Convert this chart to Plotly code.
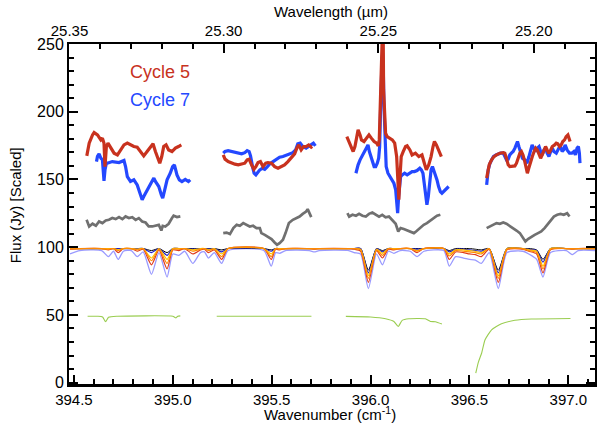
import plotly.graph_objects as go

# ---------------- data ----------------
# Cycle 5 (red) observed spectrum, four spectral segments
red_wn1 = [394.565, 394.577, 394.594, 394.602, 394.619, 394.636, 394.644, 394.652, 394.657, 394.664, 394.672, 394.686, 394.703, 394.720, 394.736, 394.753, 394.770, 394.786, 394.803, 394.820, 394.837, 394.853, 394.870, 394.887, 394.900, 394.912, 394.924, 394.934, 394.944, 394.954, 394.966, 394.979, 394.996, 395.013, 395.029, 395.043]
red_f1 = [167.4, 176.8, 182.9, 184.6, 182.9, 179.2, 180.5, 176.8, 159.5, 174.3, 176.8, 173.1, 169.4, 168.1, 171.8, 175.5, 176.8, 175.5, 174.3, 173.8, 170.6, 167.4, 170.6, 174.3, 176.3, 170.6, 165.7, 162.0, 166.9, 174.3, 175.5, 171.8, 170.6, 173.1, 174.3, 175.5]
red_wn2 = [395.255, 395.264, 395.280, 395.297, 395.314, 395.331, 395.348, 395.364, 395.376, 395.386, 395.398, 395.410, 395.420, 395.431, 395.443, 395.456, 395.470, 395.481, 395.499, 395.515, 395.532, 395.549, 395.565, 395.582, 395.599, 395.616, 395.627, 395.637, 395.649, 395.661, 395.674, 395.687, 395.700, 395.705]
red_f2 = [168.1, 165.0, 163.2, 162.0, 161.3, 160.8, 161.3, 162.0, 164.5, 165.0, 160.8, 157.5, 159.5, 162.5, 163.2, 159.5, 162.0, 162.5, 162.0, 159.5, 158.3, 159.5, 160.8, 163.2, 166.4, 168.9, 173.1, 175.5, 171.8, 174.3, 174.3, 175.5, 173.8, 174.3]
red_wn3 = [395.880, 395.887, 395.900, 395.912, 395.921, 395.931, 395.937, 395.947, 395.954, 395.967, 395.981, 395.992, 396.004, 396.018, 396.031, 396.039, 396.044, 396.049, 396.053, 396.058, 396.063, 396.066, 396.071, 396.076, 396.084, 396.098, 396.110, 396.122, 396.132, 396.138, 396.143, 396.148, 396.155, 396.165, 396.177, 396.185, 396.199, 396.210, 396.227, 396.244, 396.260, 396.272, 396.282, 396.294, 396.306, 396.316, 396.323, 396.333, 396.344, 396.353, 396.358]
red_f3 = [181.6, 179.2, 174.3, 170.6, 174.3, 181.6, 186.6, 182.9, 179.2, 178.0, 180.5, 182.9, 180.5, 178.0, 176.8, 174.8, 179.2, 203.8, 238.2, 275.0, 275.0, 216.1, 191.5, 184.1, 181.6, 180.5, 179.2, 176.8, 166.9, 149.7, 135.0, 149.7, 166.9, 170.6, 174.3, 174.8, 171.8, 168.1, 169.4, 166.9, 168.1, 162.0, 157.1, 160.8, 166.9, 174.3, 178.0, 175.5, 171.8, 168.1, 166.9]
red_wn4 = [396.587, 396.592, 396.600, 396.612, 396.624, 396.637, 396.654, 396.671, 396.679, 396.687, 396.696, 396.704, 396.718, 396.730, 396.738, 396.746, 396.755, 396.763, 396.771, 396.780, 396.788, 396.793, 396.800, 396.808, 396.818, 396.827, 396.835, 396.843, 396.852, 396.860, 396.868, 396.877, 396.885, 396.893, 396.902, 396.911, 396.919, 396.931, 396.939, 396.947, 396.956, 396.964, 396.972, 396.981, 396.989, 396.998, 397.003, 397.009]
red_f4 = [151.0, 155.8, 160.8, 164.5, 166.9, 168.1, 169.4, 169.8, 169.4, 165.7, 160.8, 159.5, 159.5, 160.0, 162.0, 165.7, 169.4, 170.6, 168.1, 163.2, 157.1, 154.6, 158.3, 163.2, 166.9, 170.6, 173.1, 171.8, 168.1, 165.7, 168.1, 171.8, 174.3, 171.8, 169.4, 171.8, 174.3, 175.5, 176.8, 176.3, 174.3, 175.5, 178.0, 179.2, 181.6, 182.9, 180.5, 178.0]

# Cycle 7 (blue) observed spectrum
blue_wn1 = [394.614, 394.619, 394.627, 394.636, 394.644, 394.652, 394.657, 394.664, 394.669, 394.694, 394.728, 394.753, 394.761, 394.770, 394.786, 394.803, 394.820, 394.837, 394.845, 394.853, 394.870, 394.887, 394.904, 394.912, 394.929, 394.942, 394.949, 394.959, 394.971, 394.987, 394.999, 395.008, 395.013, 395.021, 395.033, 395.046, 395.063, 395.079, 395.088]
blue_f1 = [163.2, 167.0, 168.9, 165.7, 164.5, 149.0, 157.0, 162.0, 162.0, 163.2, 162.5, 164.0, 159.5, 152.1, 148.5, 149.7, 146.0, 138.6, 135.0, 137.4, 142.3, 146.0, 151.0, 148.5, 144.8, 138.6, 136.2, 142.3, 149.7, 154.6, 159.5, 160.8, 157.1, 153.4, 149.7, 148.5, 150.1, 148.5, 149.7]
blue_wn2 = [395.255, 395.264, 395.280, 395.297, 395.314, 395.331, 395.348, 395.364, 395.376, 395.386, 395.393, 395.403, 395.411, 395.420, 395.431, 395.440, 395.453, 395.465, 395.476, 395.490, 395.507, 395.524, 395.540, 395.557, 395.574, 395.590, 395.607, 395.621, 395.632, 395.644, 395.657, 395.674, 395.687, 395.700, 395.711, 395.721]
blue_f2 = [169.4, 170.6, 171.3, 170.6, 169.8, 169.4, 168.9, 169.8, 171.3, 170.6, 167.4, 159.5, 154.6, 153.4, 155.8, 157.1, 158.3, 157.5, 159.0, 161.5, 163.2, 165.0, 166.4, 166.9, 168.1, 168.9, 169.8, 171.8, 176.3, 176.8, 174.3, 173.1, 174.3, 175.5, 176.8, 174.8]
blue_wn3 = [395.926, 395.931, 395.937, 395.947, 395.959, 395.971, 395.981, 395.987, 395.994, 396.001, 396.009, 396.018, 396.026, 396.034, 396.041, 396.046, 396.051, 396.054, 396.058, 396.061, 396.064, 396.068, 396.073, 396.079, 396.088, 396.098, 396.110, 396.118, 396.127, 396.132, 396.137, 396.142, 396.147, 396.152, 396.160, 396.172, 396.185, 396.199, 396.210, 396.222, 396.235, 396.249, 396.257, 396.265, 396.272, 396.279, 396.285, 396.292, 396.299, 396.306, 396.313, 396.319, 396.328, 396.336, 396.344, 396.353, 396.361, 396.369, 396.378, 396.386, 396.395]
blue_f3 = [154.6, 158.3, 160.8, 164.5, 168.1, 171.8, 174.8, 175.5, 170.6, 166.9, 163.2, 159.5, 159.5, 162.0, 165.7, 174.3, 203.8, 228.4, 238.2, 243.1, 233.3, 203.8, 179.2, 159.5, 154.6, 152.1, 149.7, 147.2, 142.3, 135.0, 125.1, 137.4, 147.2, 152.1, 153.4, 154.6, 153.4, 155.1, 155.8, 155.8, 156.6, 158.3, 157.1, 154.6, 144.8, 135.0, 131.3, 137.4, 149.7, 157.1, 159.5, 157.1, 152.1, 149.7, 144.8, 141.1, 139.9, 141.1, 142.3, 143.6, 144.8]
blue_wn4 = [396.587, 396.590, 396.595, 396.604, 396.612, 396.621, 396.634, 396.646, 396.657, 396.671, 396.679, 396.687, 396.696, 396.704, 396.712, 396.721, 396.730, 396.738, 396.743, 396.750, 396.758, 396.768, 396.780, 396.791, 396.801, 396.808, 396.817, 396.825, 396.835, 396.843, 396.852, 396.860, 396.868, 396.877, 396.885, 396.893, 396.902, 396.911, 396.919, 396.927, 396.939, 396.952, 396.961, 396.969, 396.976, 396.984, 396.994, 397.006, 397.018, 397.028, 397.036, 397.044, 397.051, 397.056, 397.059]
blue_f4 = [146.0, 152.1, 157.1, 162.0, 165.0, 166.9, 168.1, 168.9, 169.4, 169.4, 166.9, 164.5, 165.0, 168.1, 169.4, 170.6, 173.1, 175.5, 178.0, 174.3, 169.4, 165.7, 164.5, 162.0, 166.9, 171.8, 175.5, 173.1, 170.6, 173.1, 174.3, 170.6, 168.1, 171.8, 173.1, 169.4, 166.9, 170.6, 173.1, 170.6, 169.4, 173.1, 174.3, 170.6, 171.8, 175.5, 171.8, 169.4, 169.4, 170.6, 168.1, 173.1, 174.3, 169.4, 162.0]

# Gray spectrum
gray_wn1 = [394.564, 394.577, 394.594, 394.611, 394.627, 394.644, 394.661, 394.677, 394.694, 394.711, 394.728, 394.745, 394.761, 394.778, 394.795, 394.812, 394.828, 394.845, 394.862, 394.878, 394.896, 394.912, 394.929, 394.942, 394.949, 394.962, 394.979, 394.996, 395.004, 395.021, 395.038]
gray_f1 = [120.2, 115.3, 117.3, 115.8, 119.0, 117.8, 119.7, 120.2, 121.5, 120.7, 122.2, 120.7, 122.7, 121.5, 122.2, 120.2, 121.5, 119.0, 118.2, 115.3, 115.3, 115.8, 116.5, 112.3, 115.8, 115.3, 117.3, 121.5, 123.2, 122.2, 122.7]
gray_wn2 = [395.255, 395.272, 395.289, 395.306, 395.323, 395.339, 395.356, 395.373, 395.389, 395.406, 395.423, 395.440, 395.448, 395.465, 395.481, 395.499, 395.515, 395.527, 395.540, 395.557, 395.570, 395.587, 395.607, 395.624, 395.641, 395.657, 395.674, 395.682, 395.691, 395.700]
gray_f2 = [110.4, 110.8, 109.7, 114.1, 116.5, 115.8, 117.8, 116.5, 115.3, 115.8, 114.1, 114.1, 110.4, 109.1, 107.9, 106.0, 103.5, 101.8, 103.0, 105.5, 110.4, 117.8, 120.2, 121.5, 122.6, 124.6, 126.3, 128.1, 125.1, 122.2]
gray_wn3 = [395.883, 395.892, 395.909, 395.926, 395.942, 395.959, 395.976, 395.992, 396.009, 396.026, 396.043, 396.059, 396.076, 396.093, 396.110, 396.127, 396.140, 396.152, 396.168, 396.185, 396.202, 396.219, 396.230, 396.244, 396.257, 396.269, 396.285, 396.303, 396.319, 396.336, 396.353]
gray_f3 = [125.1, 122.6, 123.9, 123.2, 124.6, 123.2, 122.6, 124.6, 125.6, 123.9, 122.6, 123.9, 122.1, 122.6, 120.2, 117.3, 111.6, 114.1, 113.4, 112.3, 111.6, 110.4, 111.6, 113.4, 115.3, 116.5, 117.8, 119.7, 121.5, 123.2, 123.9]
gray_wn4 = [396.587, 396.604, 396.621, 396.637, 396.654, 396.671, 396.687, 396.704, 396.721, 396.738, 396.755, 396.771, 396.783, 396.796, 396.813, 396.830, 396.847, 396.863, 396.880, 396.893, 396.911, 396.927, 396.944, 396.961, 396.977, 396.994, 397.006]
gray_f4 = [114.1, 115.3, 116.5, 117.8, 117.3, 118.2, 117.3, 115.8, 114.1, 112.3, 110.4, 106.7, 104.2, 106.0, 107.9, 109.1, 110.4, 111.6, 114.1, 116.5, 120.2, 122.6, 123.9, 124.6, 123.9, 125.1, 122.6]

# Green curve
green_wn1 = [394.569, 394.620, 394.645, 394.660, 394.675, 394.720, 395.000, 395.016, 395.025, 395.038]
green_f1 = [49.0, 49.0, 48.5, 45.0, 48.3, 49.0, 49.0, 47.8, 49.0, 49.3]
green_wn2 = [395.222, 395.701]
green_f2 = [49.0, 49.0]
green_wn3 = [395.875, 396.000, 396.076, 396.118, 396.140, 396.160, 396.194, 396.277, 396.303, 396.328, 396.361]
green_f3 = [48.9, 48.5, 47.2, 45.2, 41.5, 46.0, 47.2, 47.2, 45.2, 45.0, 43.3]
green_wn4 = [396.532, 396.545, 396.562, 396.579, 396.612, 396.662, 396.730, 396.813, 397.011]
green_f4 = [7.0, 15.0, 21.9, 31.7, 39.0, 43.5, 46.0, 47.0, 47.4]

# Model spectra (common wavenumber grid)
model_wn = [394.48, 394.53, 394.64, 394.674, 394.70, 394.724, 394.75, 394.79, 394.82, 394.85, 394.892, 394.93, 394.971, 395.00, 395.03, 395.06, 395.101, 395.14, 395.16, 395.18, 395.21, 395.247, 395.28, 395.46, 395.498, 395.52, 395.54, 395.57, 395.69, 395.716, 395.74, 395.89, 395.917, 395.95, 395.989, 396.03, 396.06, 396.09, 396.118, 396.15, 396.20, 396.235, 396.27, 396.37, 396.398, 396.43, 396.47, 396.50, 396.53, 396.56, 396.60, 396.646, 396.69, 396.77, 396.80, 396.84, 396.872, 396.91, 396.99, 397.02, 397.05, 397.14]
model_lightblue = [95, 97.5, 97.5, 93, 97, 91, 97, 97.5, 93, 96.5, 80, 96, 78, 95, 94, 97, 88, 96, 96.5, 92, 96, 88, 97.5, 97.5, 86, 96, 95.5, 97.5, 97.5, 96.5, 97.5, 97.5, 96, 95, 69.5, 95, 87, 97, 95.5, 97.5, 97, 93, 97, 97.5, 86, 93, 92, 91, 90.5, 88, 96, 69.5, 96, 97, 95, 91, 78, 96, 97.5, 94.5, 97.5, 97.5]
model_red = [98.5, 99, 99, 98, 99, 96, 99, 99, 97, 98.5, 87, 98, 84, 98, 97.5, 99, 95, 98, 98.5, 96, 98, 91, 99, 99, 91, 98.5, 98, 99, 99, 98.5, 99, 99, 98.5, 97, 74, 97.5, 92, 98.5, 98, 99, 99, 96, 99, 99, 91, 96.5, 96, 95, 94.5, 93, 98.5, 74, 98, 98.5, 97, 95, 81, 98, 99, 98.5, 99, 99]
model_orange = [99, 99, 99, 98.5, 99, 97.5, 99, 99, 98, 99, 90, 98.5, 88, 98.5, 98.5, 99, 97, 98.5, 99, 97.5, 98.5, 93, 99, 99, 93, 99, 98.5, 99, 99, 99, 99, 99, 99, 98, 77, 98, 94, 99, 98.5, 99, 99, 97, 99, 99, 93.5, 97.5, 97, 96.5, 96, 95, 99, 77, 98.5, 99, 97.5, 96, 84, 98.5, 99, 99, 99, 99]
model_yellow = [99, 99, 99, 99, 99, 98, 99, 99, 98.5, 99, 92, 99, 91, 99, 99, 99, 98, 99, 99, 98, 99, 95, 99, 99, 95, 99, 99, 99, 99, 99, 99, 99, 99, 98.5, 79, 98.5, 95.5, 99, 99, 99, 99, 97.5, 99, 99, 95, 98, 98, 97.5, 97, 96, 99, 79, 99, 99, 98, 97, 86, 99, 99, 99, 99, 99]
model_darkblue = [99, 99, 99, 99, 99, 99, 99, 99, 99, 99, 96, 99, 94, 99, 99, 99, 98.5, 99, 99, 98.5, 99, 96.5, 99, 99, 97, 99, 99, 99, 99, 99, 99, 99, 99, 99, 81, 99, 96.5, 99, 99, 99, 99, 98.5, 99, 99, 96.5, 98.5, 98.5, 98, 97.5, 97, 99, 81, 99, 99, 98.5, 97.5, 89, 99, 99, 99, 99, 99]
model_black = [99, 99, 99, 99, 99, 99, 99, 99, 99, 99, 97.5, 99, 96, 99, 99, 99, 99, 99, 99, 99, 99, 98, 99, 99, 98, 99, 99, 99, 99, 99, 99, 99, 99, 99, 83, 99, 97.5, 99, 99, 99, 99, 99, 99, 99, 97.5, 99, 99, 99, 98.5, 98, 99, 83, 99, 99, 99, 98, 91, 99, 99, 99, 99, 99]

# Axes
x_range = [394.475, 397.135]
y_range = [-1, 250]
wn_ticks = [394.5, 395.0, 395.5, 396.0, 396.5, 397.0]
wl_ticks = [25.35, 25.30, 25.25, 25.20]
wl_minor = [25.34, 25.33, 25.32, 25.31, 25.29, 25.28, 25.27, 25.26, 25.24, 25.23, 25.22, 25.21, 25.19, 25.18]

# ---------------- figure ----------------
FONT = "Liberation Sans, Arial, Helvetica, sans-serif"
W, H, L, R, T, B = 599, 423, 69, 2, 44, 39


def join(*segs):
    xs, ys = [], []
    for sx, sy in segs:
        if xs:
            xs.append(None)
            ys.append(None)
        xs.extend(sx)
        ys.extend(sy)
    return xs, ys


def px_to_paper(xp, yp):
    return (xp - L) / (W - L - R), (H - B - yp) / (H - T - B)


fig = go.Figure()

models = [
    (model_lightblue, "#9a9aff", 1.3),
    (model_black, "#000000", 1.0),
    (model_darkblue, "#2020c8", 1.2),
    (model_red, "#e03a1a", 1.2),
    (model_yellow, "#ffc400", 1.2),
    (model_orange, "#ff8a00", 1.2),
]
for ys, col, w in models:
    fig.add_trace(go.Scatter(x=model_wn, y=ys, mode="lines",
                             line=dict(color=col, width=w, shape="spline", smoothing=0.6),
                             showlegend=False, hoverinfo="skip"))

gx, gy = join((green_wn1, green_f1), (green_wn2, green_f2), (green_wn3, green_f3), (green_wn4, green_f4))
fig.add_trace(go.Scatter(x=gx, y=gy, mode="lines",
                         line=dict(color="#9acd50", width=1.1, shape="spline", smoothing=0.5),
                         showlegend=False, connectgaps=False))

kx, ky = join((gray_wn1, gray_f1), (gray_wn2, gray_f2), (gray_wn3, gray_f3), (gray_wn4, gray_f4))
fig.add_trace(go.Scatter(x=kx, y=ky, mode="lines", line=dict(color="#707070", width=2.7),
                         showlegend=False, connectgaps=False))

bx, by = join((blue_wn1, blue_f1), (blue_wn2, blue_f2), (blue_wn3, blue_f3), (blue_wn4, blue_f4))
fig.add_trace(go.Scatter(x=bx, y=by, mode="lines", line=dict(color="#2448ff", width=3.2),
                         showlegend=False, connectgaps=False))

rx, ry = join((red_wn1, red_f1), (red_wn2, red_f2), (red_wn3, red_f3), (red_wn4, red_f4))
fig.add_trace(go.Scatter(x=rx, y=ry, mode="lines", line=dict(color="#c8321e", width=3.2),
                         showlegend=False, connectgaps=False))

# invisible trace that carries the top (wavelength) axis
fig.add_trace(go.Scatter(x=x_range, y=[None, None], xaxis="x2", mode="lines",
                         showlegend=False, hoverinfo="skip"))

tick_font = dict(family=FONT, size=16, color="black")
small_font = dict(family=FONT, size=15, color="black")
fig.update_layout(
    width=W, height=H,
    margin=dict(l=L, r=R, t=T, b=B),
    paper_bgcolor="white", plot_bgcolor="white",
    font=dict(family=FONT, size=16, color="black"),
    xaxis=dict(range=x_range, tickvals=wn_ticks, ticktext=[f"{v:.1f}" for v in wn_ticks],
               tickfont=small_font,
               ticks="inside", ticklen=9, tickwidth=1.5, tickcolor="black",
               minor=dict(dtick=0.1, tick0=394.5, ticks="inside", ticklen=5, tickwidth=1.5, tickcolor="black"),
               showline=True, linewidth=2.5, linecolor="black", mirror=False,
               showgrid=False, zeroline=False),
    xaxis2=dict(range=x_range, overlaying="x", side="top",
                tickmode="array", tickvals=[1e4 / w for w in wl_ticks],
                ticktext=[f"{w:.2f}" for w in wl_ticks], tickfont=small_font,
                ticks="inside", ticklen=9, tickwidth=1.5, tickcolor="black",
                minor=dict(tickmode="array", tickvals=[1e4 / w for w in wl_minor],
                           ticks="inside", ticklen=5, tickwidth=1.5, tickcolor="black"),
                showline=True, linewidth=1.5, linecolor="black",
                showgrid=False, zeroline=False),
    yaxis=dict(range=y_range, tickvals=[0, 50, 100, 150, 200, 250], tickfont=tick_font,
               ticks="inside", ticklen=9, tickwidth=1.5, tickcolor="black",
               minor=dict(dtick=10, tick0=0, ticks="inside", ticklen=5, tickwidth=1.5, tickcolor="black"),
               showline=True, linewidth=2, linecolor="black", mirror="ticks",
               showgrid=False, zeroline=False),
)

fig.add_annotation(text="Cycle 5", x=394.937, y=229.4, xref="x", yref="y", showarrow=False,
                   font=dict(family=FONT, size=18, color="#c8321e"))
fig.add_annotation(text="Cycle 7", x=394.937, y=208.7, xref="x", yref="y", showarrow=False,
                   font=dict(family=FONT, size=18, color="#2448ff"))
tx, ty = px_to_paper(332, 12)
fig.add_annotation(text="Wavelength (\u00b5m)", x=tx, y=ty, xref="paper", yref="paper",
                   showarrow=False, font=dict(family=FONT, size=15), xanchor="center", yanchor="middle")
bx_, by_ = px_to_paper(331, 414)
fig.add_annotation(text="Wavenumber (cm<sup>-1</sup>)", x=bx_, y=by_, xref="paper", yref="paper",
                   showarrow=False, font=dict(family=FONT, size=15), xanchor="center", yanchor="middle")
lx, ly = px_to_paper(15, 205)
fig.add_annotation(text="Flux (Jy) [Scaled]", x=lx, y=ly, xref="paper", yref="paper", textangle=-90,
                   showarrow=False, font=dict(family=FONT, size=15), xanchor="center", yanchor="middle")

fig.write_html("out.html")
